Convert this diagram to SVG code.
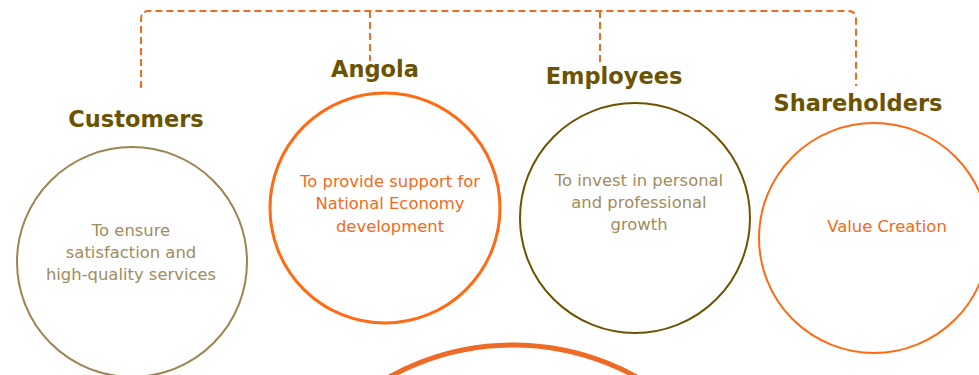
<svg xmlns="http://www.w3.org/2000/svg" width="979" height="375" viewBox="0 0 979 375">
  <style>
    .title { font-family: "DejaVu Sans", Verdana, sans-serif; font-weight: bold; font-size: 22.5px; fill: #6b5300; text-anchor: middle; }
    .body { font-family: "DejaVu Sans", Verdana, sans-serif; font-size: 16.4px; text-anchor: middle; }
    .tan { fill: #a08c5e; }
    .orange { fill: #f26a1b; }
    .ring { fill: none; }
    .conn { fill: none; stroke: #f26a1b; stroke-width: 2; stroke-dasharray: 7 4; }
  </style>
  <rect width="979" height="375" fill="#ffffff"/>

  <g id="connectors">
    <path class="conn" d="M141 88 V19 Q141 11 149 11 H848 Q856 11 856 19 V86"/>
    <path class="conn" d="M370 11 V61"/>
    <path class="conn" d="M600 11 V62"/>
  </g>

  <g id="customers">
    <text class="title" x="136" y="127">Customers</text>
    <circle class="ring" cx="132" cy="262" r="115" stroke="#9b8552" stroke-width="2"/>
    <text class="body tan" x="131" y="236">To ensure</text>
    <text class="body tan" x="131" y="258">satisfaction and</text>
    <text class="body tan" x="131" y="280">high-quality services</text>
  </g>

  <g id="angola">
    <text class="title" x="375" y="77">Angola</text>
    <circle class="ring" cx="385" cy="208" r="115" stroke="#ff6a13" stroke-width="3"/>
    <text class="body orange" x="390" y="187">To provide support for</text>
    <text class="body orange" x="390" y="209">National Economy</text>
    <text class="body orange" x="390" y="232">development</text>
  </g>

  <g id="employees">
    <text class="title" x="614" y="84">Employees</text>
    <circle class="ring" cx="635" cy="218" r="115" stroke="#6b5300" stroke-width="2"/>
    <text class="body tan" x="639" y="186">To invest in personal</text>
    <text class="body tan" x="639" y="208">and professional</text>
    <text class="body tan" x="639" y="230">growth</text>
  </g>

  <g id="shareholders">
    <text class="title" x="858" y="111">Shareholders</text>
    <circle class="ring" cx="874" cy="238" r="115" stroke="#ff6a13" stroke-width="2"/>
    <text class="body orange" x="887" y="232">Value Creation</text>
  </g>

  <g id="centre">
    <circle class="ring" cx="513" cy="600" r="255" stroke="#ee6a26" stroke-width="5"/>
  </g>
</svg>
